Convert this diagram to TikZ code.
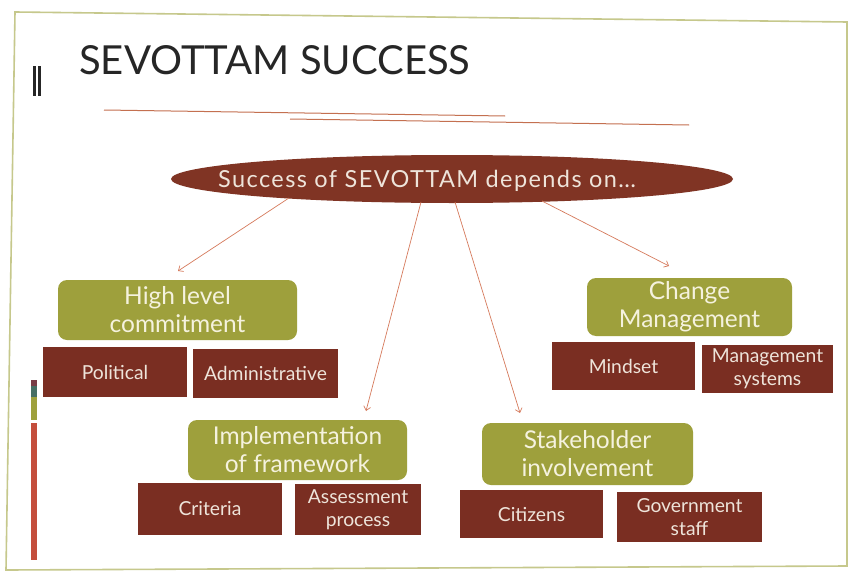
\documentclass[tikz,border=0pt]{standalone}
\usepackage{fontspec}
\setmainfont{Lato}
\usetikzlibrary{shapes.geometric,arrows.meta}
\definecolor{brn}{RGB}{122,46,34}
\definecolor{ell}{RGB}{128,52,36}
\definecolor{olv}{RGB}{158,160,60}
\definecolor{cream}{RGB}{245,242,222}
\definecolor{ltxt}{RGB}{238,228,218}
\definecolor{frame}{RGB}{198,200,140}
\definecolor{rule}{RGB}{196,112,80}
\definecolor{arr}{RGB}{214,122,92}
\definecolor{barred}{RGB}{196,78,60}
\definecolor{barteal}{RGB}{70,110,100}
\definecolor{barpur}{RGB}{120,60,70}
\begin{document}
\begin{tikzpicture}[x=1pt,y=-1pt,
  gbox/.style={fill=olv, rounded corners=9pt, text=cream, align=center,
    font=\fontsize{24.5}{28}\selectfont, inner sep=0pt},
  bbox/.style={fill=brn, text=ltxt, align=center,
    font=\fontsize{19.3}{23}\selectfont, inner sep=0pt},
  link/.style={draw=arr, line width=0.7pt, -{Straight Barb[length=4pt,width=7pt]}}
]
\useasboundingbox (0,0) rectangle (850,575);
\fill[white] (0,0) rectangle (850,575);
% slide frame
\draw[frame, line width=1.6pt] (15,12) -- (847,22) -- (847,566) -- (6,570) -- cycle;
% title
\node[anchor=base west, inner sep=0pt, font=\fontsize{40}{40}\selectfont, text=black!85] (title) at (79,75) {SEVOTTAM SUCCESS};
\fill[black!85] (33,66) rectangle (36,96);
\fill[black!85] (38,66) rectangle (41,96);
% rules under title
\draw[rule, line width=1pt] (104,110) -- (505,116);
\draw[rule, line width=1pt] (290,119) -- (689,125);
% left colored bar
\fill[barpur] (31,380) rectangle (37,386);
\fill[barteal] (31,386) rectangle (37,397);
\fill[olv] (31,397) rectangle (37,420);
\fill[barred] (31,423) rectangle (37,560);
% root ellipse
\node[ellipse, fill=ell, minimum width=562pt, minimum height=48pt, inner sep=0pt] (root) at (452,179) {};
\node[anchor=base, inner sep=0pt, text=ltxt,
  font=\fontsize{23.5}{26}\selectfont\addfontfeatures{LetterSpace=6}] (roottext) at (427,187) {Success of SEVOTTAM depends on\ldots};
% green boxes
\node[gbox, minimum width=239pt, minimum height=60pt] (g1) at (177.5,310) {High level\\commitment};
\node[gbox, minimum width=205pt, minimum height=58pt] (g2) at (689.5,307) {Change\\Management};
\node[gbox, minimum width=219pt, minimum height=60pt] (g3) at (297.5,450) {Implementation\\of framework};
\node[gbox, minimum width=211pt, minimum height=62pt] (g4) at (587.5,454) {Stakeholder\\involvement};
% brown boxes
\node[bbox, minimum width=144pt, minimum height=50pt] (b1) at (115,372) {Political};
\node[bbox, minimum width=145pt, minimum height=49pt] (b2) at (265.5,373.5) {Administrative};
\node[bbox, minimum width=143pt, minimum height=48pt] (b3) at (623.5,366) {Mindset};
\node[bbox, minimum width=131pt, minimum height=48pt] (b4) at (767.5,369) {Management\\systems};
\node[bbox, minimum width=144pt, minimum height=52pt] (b5) at (210,509) {Criteria};
\node[bbox, minimum width=126pt, minimum height=51pt] (b6) at (358,509.5) {Assessment\\process};
\node[bbox, minimum width=143pt, minimum height=48pt] (b7) at (531.5,514) {Citizens};
\node[bbox, minimum width=145pt, minimum height=50pt] (b8) at (689.5,517) {Government\\staff};
% connector ends
\coordinate (s1) at (289,198);
\coordinate (s2) at (421,202);
\coordinate (s3) at (455,202);
\coordinate (s4) at (542,201);
\coordinate (t1) at (178,271);
\coordinate (t2) at (366,411);
\coordinate (t3) at (520,413);
\coordinate (t4) at (669,266);
\draw[link] (s1) -- (t1);
\draw[link] (s2) -- (t2);
\draw[link] (s3) -- (t3);
\draw[link] (s4) -- (t4);
\end{tikzpicture}
\end{document}
